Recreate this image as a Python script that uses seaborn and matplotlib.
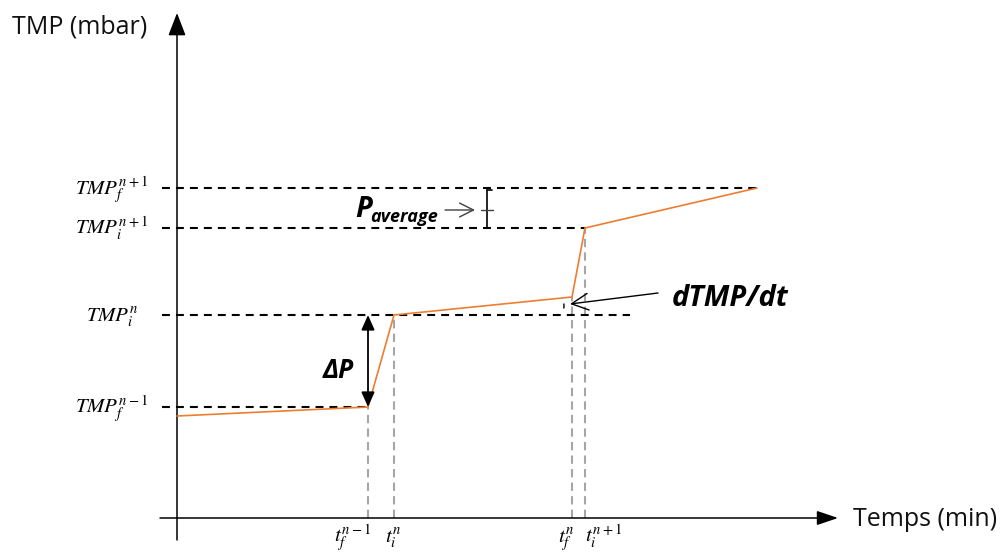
import matplotlib
matplotlib.use('Agg')
import matplotlib.pyplot as plt
from matplotlib.patches import Arc
import seaborn as sns
import pandas as pd

# ---------------- schematic data (time in min, TMP in mbar, arbitrary scale) ----------------
time_pts = [0.0, 19.1, 21.7, 39.5, 40.8, 58.0]
tmp_pts = [51.0, 55.5, 101.5, 110.5, 145.0, 165.0]

level_labels = [r'$TMP_f^{n+1}$', r'$TMP_i^{n+1}$', r'$TMP_i^{n}$', r'$TMP_f^{n-1}$']
level_values = [165.0, 145.0, 101.5, 55.5]
level_ends = [58.0, 40.8, 45.3, 19.1]

tick_labels = [r'$t_f^{n-1}$', r'$t_i^{n}$', r'$t_f^{n}$', r'$t_i^{n+1}$']
tick_times = [19.1, 21.7, 39.5, 40.8]
tick_levels = [55.5, 101.5, 110.5, 145.0]

# ---------------- style ----------------
sns.set_theme(style='white')
plt.rcParams['font.family'] = ['Open Sans', 'DejaVu Sans']
plt.rcParams['mathtext.fontset'] = 'stix'

ORANGE = '#ED7D31'
GRAY = '#A6A6A6'
TXT = '#111111'

fig = plt.figure(figsize=(10.04, 5.54), dpi=100)
ax = fig.add_axes([0, 0, 1, 1])
ax.set_xlim(-17.7, 82.7)
ax.set_ylim(-18, 259)
ax.set_axis_off()

# main curve
df = pd.DataFrame({'t': time_pts, 'tmp': tmp_pts})
sns.lineplot(data=df, x='t', y='tmp', sort=False, estimator=None,
             color=ORANGE, lw=1.2, ax=ax, zorder=4)

# horizontal dashed reference levels
x_left = -1.5
for lab, val, end, dx in zip(level_labels, level_values, level_ends, [0, 0, -9, 0]):
    ax.plot([x_left, end], [val, val], color='black', lw=1.5,
            linestyle=(0, (3.8, 2.9)), zorder=2)
    ax.annotate(lab, xy=(-2.9, val), xytext=(dx, -7), textcoords='offset pixels',
                ha='right', va='baseline', fontsize=15, color='black')

# vertical gray dashed time markers
for lab, t, lv, dx, ha in zip(tick_labels, tick_times, tick_levels,
                              [3, -9, 3, 0], ['right', 'left', 'right', 'left']):
    ax.plot([t, t], [0, lv], color=GRAY, lw=1.5, linestyle=(0, (4, 2.5)), zorder=1)
    ax.annotate(lab, xy=(t, 0), xytext=(dx, -25), textcoords='offset pixels',
                ha=ha, va='baseline', fontsize=15, color='black')

# axes with arrows
ax.annotate('', xy=(0, 252.5), xytext=(0, -11),
            arrowprops=dict(arrowstyle='-|>,head_length=0.7,head_width=0.27',
                            mutation_scale=20, color='black', lw=1.1, shrinkA=0, shrinkB=0))
ax.annotate('', xy=(66.1, 0), xytext=(-1.7, 0),
            arrowprops=dict(arrowstyle='-|>,head_length=0.65,head_width=0.22',
                            mutation_scale=20, color='black', lw=1.1, shrinkA=0, shrinkB=0))
ax.text(-16.5, 242.5, 'TMP (mbar)', ha='left', va='baseline', fontsize=18, color=TXT)
ax.text(67.6, -4, 'Temps (min)', ha='left', va='baseline', fontsize=18, color=TXT)

# Delta P annotation
ax.annotate('', xy=(tick_times[0], level_values[2]), xytext=(tick_times[0], level_values[3]),
            arrowprops=dict(arrowstyle='<|-|>,head_length=0.45,head_width=0.2',
                            mutation_scale=20, color='black', lw=1.3, shrinkA=0, shrinkB=0),
            zorder=5)
ax.text(14.6, 70, r'ΔP', ha='left', va='baseline', fontsize=19,
        fontweight='bold', fontstyle='italic', color='black')

# P_average annotation
ax.text(17.8, 150.5, 'P', ha='left', va='baseline', fontsize=21,
        fontweight='bold', fontstyle='italic', color='black')
ax.text(19.3, 148, 'average', ha='left', va='baseline', fontsize=13,
        fontweight='bold', fontstyle='italic', color='black')
ax.annotate('', xy=(29.8, 154), xytext=(26.8, 154),
            arrowprops=dict(arrowstyle='->,head_length=0.5,head_width=0.25',
                            mutation_scale=20, color='#404040', lw=1.0, shrinkA=0, shrinkB=0))
ax.plot([31.0, 31.0], [level_values[0] - 1, level_values[1]], color='black', lw=1.2)
ax.plot([31.0, 31.5], [level_values[0] - 1, level_values[0] - 1], color='black', lw=1.2)
ax.plot([30.4, 31.6], [154, 154], color='#404040', lw=1.0)

# dTMP/dt annotation
ax.annotate('', xy=(39.3, 107), xytext=(48.1, 112.5),
            arrowprops=dict(arrowstyle='->,head_length=0.6,head_width=0.3',
                            mutation_scale=20, color='black', lw=1.0, shrinkA=0, shrinkB=0))
ax.add_patch(Arc((37.8, 106), 1.8, 9, theta1=-55, theta2=55, color='black', lw=1.0))
ax.text(49.5, 106, 'dTMP/dt', ha='left', va='baseline', fontsize=21,
        fontweight='bold', fontstyle='italic', color='black')

fig.savefig('out.png', dpi=100)
